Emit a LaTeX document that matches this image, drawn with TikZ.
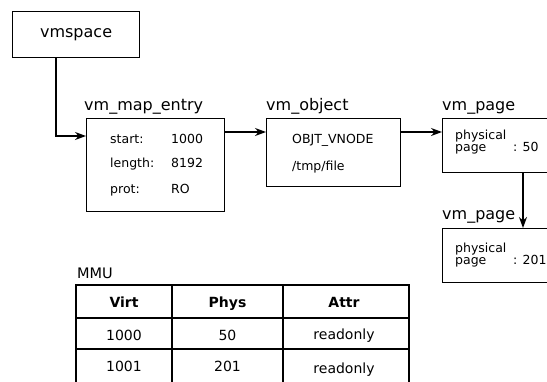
\documentclass[tikz,border=0pt]{standalone}
\usepackage{fontspec}
\setmainfont{DejaVu Sans}
\usetikzlibrary{arrows.meta,calc}
\begin{document}
\begin{tikzpicture}[x=1pt,y=-1pt,
  box/.style={draw,line width=1.2pt,inner sep=0pt,anchor=north west},
  title/.style={font=\fontsize{16}{18}\selectfont,anchor=base west,inner sep=0pt},
  small/.style={font=\fontsize{12.5}{14}\selectfont,anchor=base west,inner sep=0pt},
  cell/.style={font=\fontsize{14}{16}\selectfont,anchor=base,inner sep=0pt},
  arr/.style={line width=1.2pt,-{Stealth[length=11pt,width=8pt,inset=3.5pt]}},
  tline/.style={line width=1.2pt}]
\useasboundingbox (0,0) rectangle (547,381);
\clip (0,0) rectangle (547,381);
% boxes
\node[box,minimum width=127pt,minimum height=46pt,font=\fontsize{16}{18}\selectfont] (vms) at (12,11) {vmspace};
\node[box,minimum width=138pt,minimum height=93pt] (entry) at (86,118) {};
\node[box,minimum width=134pt,minimum height=68pt] (obj) at (266,118) {};
\node[box,minimum width=120pt,minimum height=54pt] (pg1) at (442,118) {};
\node[box,minimum width=120pt,minimum height=54pt] (pg2) at (442,228) {};
% titles
\node[title] (t1) at (84,110) {vm\_map\_entry};
\node[title] (t2) at (266,110) {vm\_object};
\node[title] (t3) at (442,110) {vm\_page};
\node[title] (t4) at (442,219) {vm\_page};
\node[title,font=\fontsize{14.5}{16}\selectfont] (t5) at (77,278) {MMU};
% entry contents
\node[small] (s1) at (110,143) {start:};
\node[small] (s2) at (110,167) {length:};
\node[small] (s3) at (110,193) {prot:};
\node[small] (v1) at (171,143) {1000};
\node[small] (v2) at (171,167) {8192};
\node[small] (v3) at (171,193) {RO};
% object contents
\node[small] (o1) at (292,143) {OBJT\_VNODE};
\node[small] (o2) at (292,170) {/tmp/file};
% page contents
\node[small,align=left,anchor=north west,font=\fontsize{12.5}{12.5}\selectfont] (p1) at (455,129.5) {physical\\page};
\node[small] (p1v) at (513,151) {: 50};
\node[small,align=left,anchor=north west,font=\fontsize{12.5}{12.5}\selectfont] (p2) at (455,242.5) {physical\\page};
\node[small] (p2v) at (513,264) {: 201};
% connectors
\coordinate (a0) at ($(vms.south west)+(44,0)$);
\coordinate (a1) at ($(entry.north west)+(0,18)$);
\draw[arr] (a0) |- (a1);
\coordinate (b0) at ($(entry.north east)+(0,14)$);
\coordinate (b1) at ($(obj.north west)+(0,14)$);
\draw[arr] (b0) -- (b1);
\coordinate (c0) at ($(obj.north east)+(0,14)$);
\coordinate (c1) at ($(pg1.north west)+(0,14)$);
\draw[arr] (c0) -- (c1);
\coordinate (d0) at ($(pg1.south west)+(81,0)$);
\coordinate (d1) at ($(pg2.north west)+(81,0)$);
\draw[arr] (d0) -- (d1);
% table
\draw[tline] (76,390) -- (76,285) -- (409,285) -- (409,390);
\draw[tline] (76,318) -- (409,318);
\draw[tline] (76,349) -- (409,349);
\draw[tline] (172,285) -- (172,390);
\draw[tline] (283,285) -- (283,390);
\node[cell,font=\fontsize{14}{16}\selectfont\bfseries] (h1) at (124,307.5) {Virt};
\node[cell,font=\fontsize{14}{16}\selectfont\bfseries] (h2) at (227.5,307.5) {Phys};
\node[cell,font=\fontsize{14}{16}\selectfont\bfseries] (h3) at (344,307.5) {Attr};
\node[cell] (r11) at (124,340.5) {1000};
\node[cell] (r12) at (227.5,340.5) {50};
\node[cell] (r13) at (344,339) {readonly};
\node[cell] (r21) at (124,371.5) {1001};
\node[cell] (r22) at (227.5,371.5) {201};
\node[cell] (r23) at (344,373) {readonly};
\end{tikzpicture}
\end{document}
